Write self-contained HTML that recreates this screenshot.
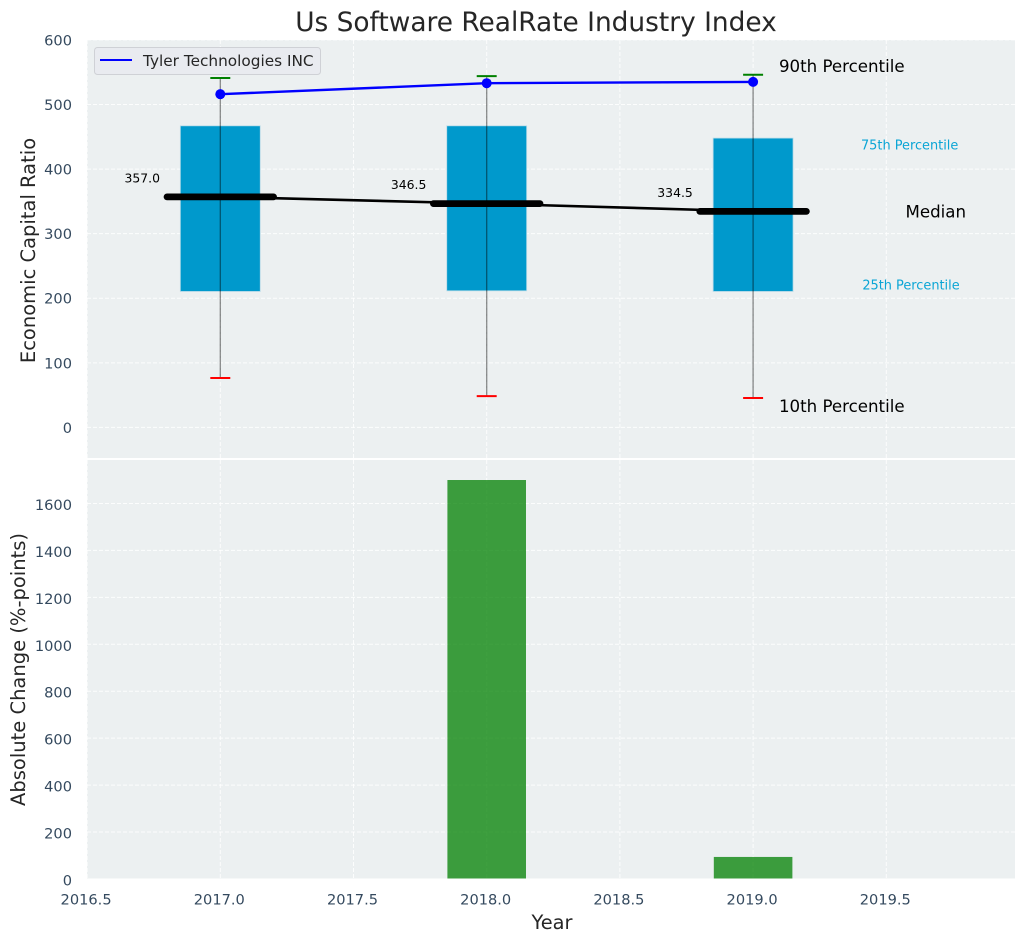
<!DOCTYPE html>
<html lang="en">
<head>
<meta charset="utf-8">
<title>Us Software RealRate Industry Index</title>
<style>
html,body{margin:0;padding:0;background:#fff}
svg{display:block}
text{font-family:"DejaVu Sans","Liberation Sans",sans-serif}
</style>
</head>
<body>
<svg id="chart" xmlns="http://www.w3.org/2000/svg" width="1026" height="942" viewBox="0 0 1026 942"></svg>
<script>
const years = [2017, 2018, 2019];
const p90 = [541, 544, 546];
const p75 = [467, 467, 448];
const medians = [357.0, 346.5, 334.5];
const p25 = [210.5, 211.5, 210.5];
const p10 = [76.5, 48.5, 45.5];
const companyValues = [516, 533, 535];
const absoluteChange = [0, 1700, 94];
const xTickValues = [2016.5, 2017.0, 2017.5, 2018.0, 2018.5, 2019.0, 2019.5];
const topTickValues = [0, 100, 200, 300, 400, 500, 600];
const bottomTickValues = [0, 200, 400, 600, 800, 1000, 1200, 1400, 1600];

const svg = document.getElementById('chart');
const NS = 'http://www.w3.org/2000/svg';
const left = 87, right = 1015, topA = 40, topB = 458, botA = 460, botB = 878.5;

function x(v) { return 220.3 + (v - 2017) * 266.4; }
function yTop(v) { return 427.4 - v * 0.6458; }
function yBot(v) { return 879 - v * 0.2347; }

function shape(tag, attrs) {
  const el = document.createElementNS(NS, tag);
  for (const k in attrs) el.setAttribute(k, attrs[k]);
  svg.appendChild(el);
  return el;
}
function label(str, px, py, size, fill, anchor) {
  const el = shape('text', { x: px, y: py, 'font-size': size, fill: fill, 'text-anchor': anchor || 'start' });
  el.textContent = str;
  return el;
}
const tickColor = '#34495e', gridAttrs = { stroke: '#ffffff', 'stroke-width': 1, 'stroke-dasharray': '4 2', 'stroke-opacity': 0.85 };

let el;
el = shape('rect', { x: left, y: topA, width: right - left, height: topB - topA, fill: '#ecf0f1' });


el = shape('rect', { x: left, y: botA, width: right - left, height: botB - botA, fill: '#ecf0f1' });



/* grids */
xTickValues.forEach(function (t) {
  el = shape('line', Object.assign({ x1: x(t), x2: x(t), y1: topA, y2: topB }, gridAttrs));
  
  
  el = shape('line', Object.assign({ x1: x(t), x2: x(t), y1: botA, y2: botB }, gridAttrs));
  
  
  el = label(t.toFixed(1), x(t) - 1, 904.5, 14.6, tickColor, 'middle');
  
  
});
topTickValues.forEach(function (t) {
  el = shape('line', Object.assign({ x1: left, x2: right, y1: yTop(t), y2: yTop(t) }, gridAttrs));
  
  
  el = label(String(t), 72, yTop(t) + 5.5, 14.6, tickColor, 'end');
  
  
});
bottomTickValues.forEach(function (t) {
  el = shape('line', Object.assign({ x1: left, x2: right, y1: yBot(t), y2: yBot(t) }, gridAttrs));
  
  
  el = label(String(t), 72, yBot(t) + 6.5, 14.6, tickColor, 'end');
  
  
});

/* boxes */
years.forEach(function (yr, i) {
  el = shape('rect', { x: x(yr - 0.15), y: yTop(p75[i]), width: x(yr + 0.15) - x(yr - 0.15), height: yTop(p25[i]) - yTop(p75[i]), fill: '#0099cc', stroke: '#b9dbe8', 'stroke-width': 0.8 });
  
  
});

/* median connector */
el = shape('polyline', { points: years.map(function (yr, i) { return x(yr) + ',' + yTop(medians[i]); }).join(' '), fill: 'none', stroke: '#000', 'stroke-width': 2.6 });



years.forEach(function (yr, i) {
  el = shape('line', { x1: x(yr), x2: x(yr), y1: yTop(p90[i]), y2: yTop(p10[i]), stroke: '#000', 'stroke-opacity': 0.45, 'stroke-width': 1.3 });
  
  
  el = shape('line', { x1: x(yr - 0.0375), x2: x(yr + 0.0375), y1: yTop(p90[i]), y2: yTop(p90[i]), stroke: '#008000', 'stroke-width': 2 });
  
  
  el = shape('line', { x1: x(yr - 0.0375), x2: x(yr + 0.0375), y1: yTop(p10[i]), y2: yTop(p10[i]), stroke: '#ff0000', 'stroke-width': 2 });
  
  
  el = shape('line', { x1: x(yr - 0.2), x2: x(yr + 0.2), y1: yTop(medians[i]), y2: yTop(medians[i]), stroke: '#000', 'stroke-width': 6.8, 'stroke-linecap': 'round' });
  
  
  el = label(medians[i].toFixed(1), x(yr - 0.293), yTop(medians[i]) - 14.5, 12.4, '#000', 'middle');
  
  
});

/* company line */
el = shape('polyline', { points: years.map(function (yr, i) { return x(yr) + ',' + yTop(companyValues[i]); }).join(' '), fill: 'none', stroke: '#0000ff', 'stroke-width': 2.4 });


years.forEach(function (yr, i) {
  el = shape('circle', { cx: x(yr), cy: yTop(companyValues[i]), r: 5, fill: '#0000ff' });
  
  
});

/* annotations, anchored on the last year */
const last = years.length - 1;
el = label('90th Percentile', x(2019.097), yTop(p90[last] + 14) + 6, 16.65, '#000');


el = label('75th Percentile', x(2019.405), yTop(p75[last] - 11) + 4.5, 12.9, '#0aa5d5');


el = label('Median', x(2019.572), yTop(medians[last]) + 6, 16.65, '#000');


el = label('25th Percentile', x(2019.41), yTop(p25[last] + 10) + 4.5, 12.9, '#0aa5d5');


el = label('10th Percentile', x(2019.097), yTop(p10[last] - 12) + 6, 16.65, '#000');



/* bottom bars */
years.forEach(function (yr, i) {
  if (!absoluteChange[i]) return;
  el = shape('rect', { x: x(yr - 0.1475), y: yBot(absoluteChange[i]), width: x(yr + 0.1475) - x(yr - 0.1475), height: botB - yBot(absoluteChange[i]), fill: '#008000', 'fill-opacity': 0.75 });
  
  
});

/* legend */
el = shape('rect', { x: 94.5, y: 47.5, width: 226, height: 27, rx: 3, fill: '#e9ebf0', stroke: '#cfd1d6', 'stroke-width': 1 });


el = shape('line', { x1: 100, x2: 132, y1: 60, y2: 60, stroke: '#0000ff', 'stroke-width': 2 });


el = label('Tyler Technologies INC', 143, 66, 15.3, '#262626');



/* titles */
el = label('Us Software RealRate Industry Index', 536, 31, 26.4, '#262626', 'middle');


el = label('Year', 552, 929, 19.4, '#262626', 'middle');


el = label('Economic Capital Ratio', 0, 0, 19.5, '#262626', 'middle');
el.setAttribute('transform', 'translate(35 250.5) rotate(-90)');


el = label('Absolute Change (%-points)', 0, 0, 19.5, '#262626', 'middle');
el.setAttribute('transform', 'translate(25 669.5) rotate(-90)');


</script>
</body>
</html>
